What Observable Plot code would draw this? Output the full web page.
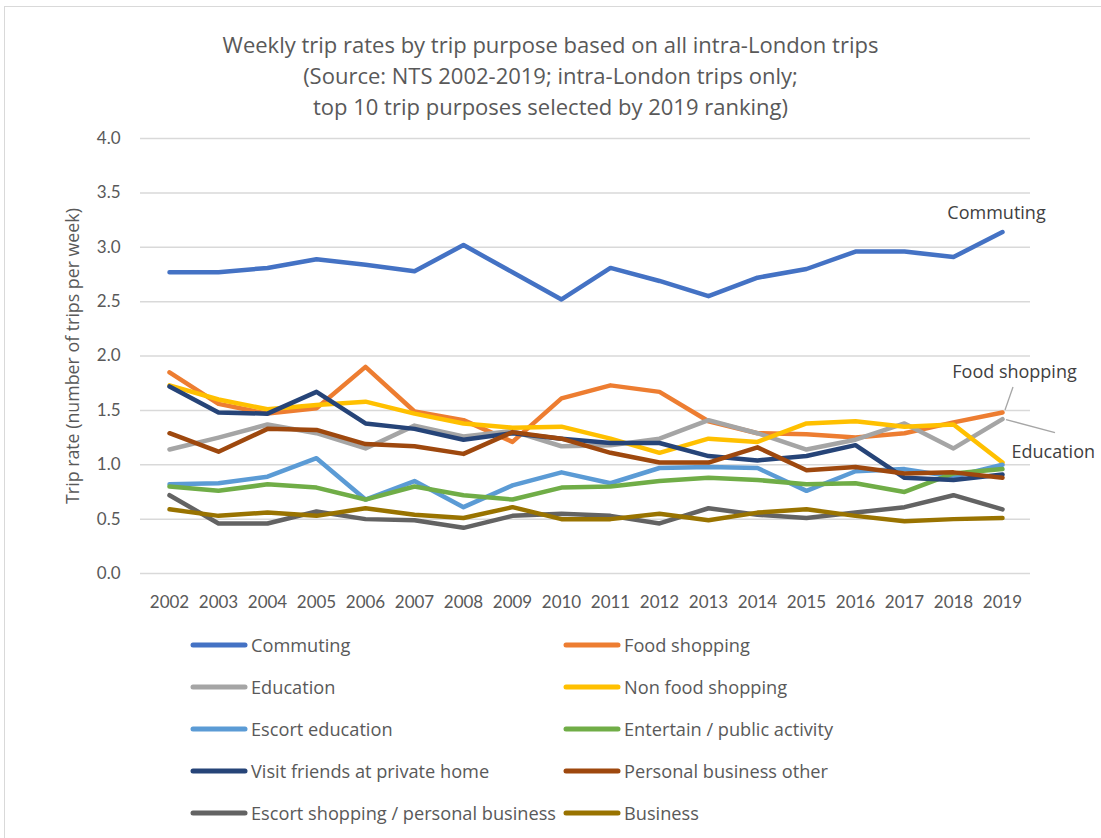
<!DOCTYPE html>
<html><head><meta charset="utf-8">
<script src="https://cdn.jsdelivr.net/npm/d3@7"></script>
<script src="https://cdn.jsdelivr.net/npm/@observablehq/plot@0.6"></script>
<style>
body{margin:0;background:#fff;}
#wrap{position:relative;width:1101px;height:838px;overflow:hidden;font-family:Lato,sans-serif;color:#595959;background:#fff;}
#frame{position:absolute;left:4px;top:6px;width:1110px;height:850px;border:1px solid #d9d9d9;box-sizing:border-box;}
#title{position:absolute;left:0;width:1101px;top:29px;text-align:center;font-family:"Open Sans",sans-serif;font-size:22px;line-height:31px;}
#chart{position:absolute;left:0;top:0;}
.leg{position:absolute;display:flex;align-items:center;font-family:"Open Sans",sans-serif;font-size:18.2px;white-space:nowrap;height:24px;}
.leg svg{margin-right:3px;}
</style></head>
<body>
<div id="wrap">
<div id="frame"></div>
<div id="chart"></div>
<div id="title">Weekly trip rates by trip purpose based on all intra-London trips<br>(Source: NTS 2002-2019; intra-London trips only;<br>top 10 trip purposes selected by 2019 ranking)</div>
<div id="legend"></div>
</div>
<script>
const years = [2002,2003,2004,2005,2006,2007,2008,2009,2010,2011,2012,2013,2014,2015,2016,2017,2018,2019];
const purposes = ["Commuting","Food shopping","Education","Non food shopping","Escort education","Entertain / public activity","Visit friends at private home","Personal business other","Escort shopping / personal business","Business"];
const colors = ["#4472C4","#ED7D31","#A5A5A5","#FFC000","#5B9BD5","#70AD47","#264478","#9E480E","#636363","#997300"];
const yTicks = [0,0.5,1,1.5,2,2.5,3,3.5,4];
const yLabel = "Trip rate (number of trips per week)";

const commuting = [2.77,2.77,2.81,2.89,2.84,2.78,3.02,2.77,2.52,2.81,2.69,2.55,2.72,2.80,2.96,2.96,2.91,3.14];
const foodShopping = [1.85,1.56,1.47,1.52,1.90,1.49,1.41,1.21,1.61,1.73,1.67,1.40,1.29,1.28,1.25,1.29,1.39,1.48];
const education = [1.14,1.25,1.37,1.29,1.15,1.36,1.26,1.31,1.17,1.18,1.24,1.41,1.29,1.14,1.23,1.38,1.15,1.42];
const nonFoodShopping = [1.73,1.60,1.51,1.55,1.58,1.47,1.38,1.34,1.35,1.24,1.11,1.24,1.21,1.38,1.40,1.35,1.37,1.02];
const escortEducation = [0.82,0.83,0.89,1.06,0.68,0.85,0.61,0.81,0.93,0.83,0.97,0.98,0.97,0.76,0.94,0.96,0.89,1.00];
const entertain = [0.80,0.76,0.82,0.79,0.68,0.80,0.72,0.68,0.79,0.80,0.85,0.88,0.86,0.82,0.83,0.75,0.92,0.96];
const visitFriends = [1.72,1.48,1.47,1.67,1.38,1.33,1.23,1.29,1.24,1.20,1.20,1.08,1.04,1.08,1.18,0.88,0.86,0.91];
const personalBusiness = [1.29,1.12,1.33,1.32,1.19,1.17,1.10,1.30,1.24,1.11,1.02,1.02,1.16,0.95,0.98,0.92,0.93,0.88];
const escortShopping = [0.72,0.46,0.46,0.57,0.50,0.49,0.42,0.53,0.55,0.53,0.46,0.60,0.54,0.51,0.56,0.61,0.72,0.59];
const business = [0.59,0.53,0.56,0.53,0.60,0.54,0.51,0.61,0.50,0.50,0.55,0.49,0.56,0.59,0.53,0.48,0.50,0.51];

const series = [commuting,foodShopping,education,nonFoodShopping,escortEducation,entertain,visitFriends,personalBusiness,escortShopping,business];
const data = [];
purposes.forEach((p,i)=>years.forEach((y,j)=>data.push({purpose:p, year:y, value:series[i][j]})));

const labelled = [
  {purpose:"Commuting", dx:-6, dy:-19, anchor:"middle"},
  {purpose:"Food shopping", dx:12, dy:-40, anchor:"middle"},
  {purpose:"Education", dx:9, dy:33, anchor:"start"}
];
const lastYear = years[years.length-1];
const labelData = labelled.map(l=>({...l, year:lastYear, value:data.find(d=>d.purpose===l.purpose && d.year===lastYear).value}));

const plot = Plot.plot({
  width:1101, height:625,
  marginLeft:140, marginRight:71, marginTop:138, marginBottom:52,
  style:{fontFamily:"Lato, sans-serif", fontSize:"17px", color:"#595959", background:"transparent"},
  x:{type:"point", domain:years, padding:0.5},
  y:{domain:[0,4]},
  color:{domain:purposes, range:colors},
  marks:[
    Plot.gridY(yTicks,{stroke:"#d9d9d9", strokeOpacity:1, strokeWidth:1.5}),
    Plot.axisY({ticks:yTicks, tickSize:0, tickPadding:20, tickFormat:d3.format(".1f"), label:null}),
    Plot.text([yLabel],{frameAnchor:"left", textAnchor:"middle", lineAnchor:"middle", rotate:-90, dx:-67, text:d=>d, fill:"#595959", fontSize:17.8, fontFamily:"Open Sans, sans-serif"}),
    Plot.axisX({tickSize:0, tickPadding:22, tickFormat:d=>String(d), label:null}),
    Plot.lineY(data,{x:"year", y:"value", z:"purpose", stroke:"purpose", strokeWidth:4.5, strokeLinecap:"round", strokeLinejoin:"round"}),
    ...labelData.map(l=>Plot.text([l],{x:"year", y:"value", text:"purpose", dx:l.dx, dy:l.dy, textAnchor:l.anchor, fill:"#404040", fontSize:18, fontFamily:"Open Sans, sans-serif"}))
  ]
});
document.getElementById("chart").appendChild(plot);

// leader lines for the annotation labels, positioned via the plot scales
const sx = plot.scale("x"), sy = plot.scale("y");
const svg = d3.select(plot);
const leaders = [
  {purpose:"Food shopping", a:[3,-2], b:[11,-25]},
  {purpose:"Education", a:[4,1], b:[53,14]}
];
leaders.forEach(l=>{
  const d = labelData.find(x=>x.purpose===l.purpose);
  const px = sx.apply(d.year), py = sy.apply(d.value);
  svg.append("line").attr("x1",px+l.a[0]).attr("y1",py+l.a[1]).attr("x2",px+l.b[0]).attr("y2",py+l.b[1])
    .attr("stroke","#a6a6a6").attr("stroke-width",1.3);
});

// legend
const leg = document.getElementById("legend");
const colX = [190, 563];
const rowY = [645, 687, 729, 771, 813];
purposes.forEach((p,i)=>{
  const c = i%2, r = Math.floor(i/2);
  const div = document.createElement("div");
  div.className = "leg";
  div.style.left = colX[c]+"px";
  div.style.top = (rowY[r]-12)+"px";
  div.innerHTML = `<svg width="58" height="10"><line x1="3" y1="5" x2="55" y2="5" stroke="${colors[i]}" stroke-width="5" stroke-linecap="round"/></svg><span>${p}</span>`;
  leg.appendChild(div);
});
</script>
</body></html>
